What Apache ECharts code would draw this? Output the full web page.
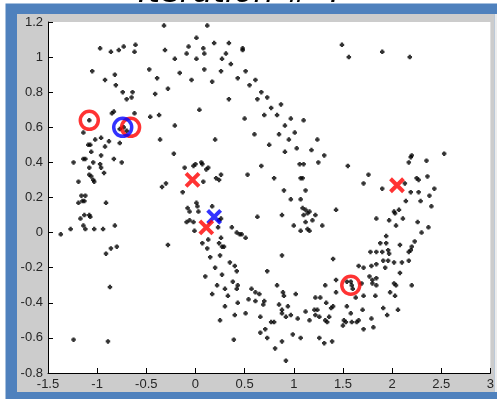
<!DOCTYPE html>
<html><head><meta charset="utf-8">
<script src="https://cdn.jsdelivr.net/npm/echarts@6/dist/echarts.min.js"></script>
<style>html,body{margin:0;padding:0;background:#fff}#c{width:497px;height:401px}</style>
</head><body><div id="c"></div>
<script>
const titleText = 'Iteration # 4';
const xTicks = {min: -1.5, max: 3, step: 0.5};
const yTicks = {min: -0.8, max: 1.2, step: 0.2};

const leftArm = [[-0.97,1.05],[-0.86,1.03],[-0.78,1.04],[-0.73,1.06],[-0.61,1.07],[-0.62,1.03],
[-1.05,0.92],[-0.92,0.87],[-0.82,0.90],[-0.81,0.84],[-1.08,0.64],
[-0.74,0.80],[-0.70,0.76],[-0.65,0.77],[-0.64,0.80],[-0.41,0.79],
[-0.85,0.68],[-0.83,0.69],[-0.62,0.68],[-0.46,0.66],[-0.37,0.67],
[-0.77,0.59],[-0.73,0.60],[-0.70,0.58],
[-1.14,0.57],[-1.02,0.53],[-0.96,0.54],[-0.88,0.52],[-0.77,0.51],[-1.09,0.50],[-1.07,0.50],[-0.92,0.49],[-1.06,0.46],[-0.96,0.44],[-0.83,0.42],[-0.75,0.40],[-1.14,0.42],[-1.12,0.42],[-1.24,0.40],[-1.04,0.40],[-0.97,0.39],[-0.96,0.37],[-1.08,0.37],
[-1.08,0.33],[-1.06,0.32],[-1.04,0.30],[-1.03,0.29],[-0.93,0.34],[-1.19,0.29],[-1.16,0.21],[-1.12,0.21],[-1.19,0.17],[-1.15,0.18],[-1.13,0.18],[-0.91,0.17],[-1.17,0.08],[-1.13,0.10],[-1.08,0.10],[-1.07,0.09],[-1.14,0.04],[-1.12,0.02],[-1.03,0.02],[-0.94,0.02],[-0.82,0.04],[-1.27,0.02],[-1.37,-0.01],[-0.91,-0.12],[-0.86,-0.09],[-0.80,-0.08],[-0.87,-0.31],[-1.24,-0.61],[-0.89,-0.62]];

const topArc = [[-0.32,1.18],[0.12,1.18],[0.01,1.11],[-0.31,1.04],[-0.07,1.06],[-0.09,1.02],[0.08,1.05],[0.09,1.02],[0.19,1.08],[0.34,1.08],[0.31,1.02],[0.48,1.05],[0.48,1.04],[-0.21,0.99],[0.01,0.99],[0.27,0.99],
[1.49,1.07],[1.90,1.03],[1.56,1.00],[2.18,1.00],
[-0.47,0.93],[-0.39,0.88],[-0.28,0.82],[-0.16,0.91],[-0.04,0.87],[0.09,0.93],[0.17,0.86],[0.26,0.92],[0.36,0.96],[0.43,0.88],[0.51,0.92],[0.55,0.84],[0.61,0.87],[0.67,0.80],[0.63,0.76],[0.73,0.77],[0.77,0.71],[0.70,0.67],[0.83,0.67],[0.87,0.73],[0.91,0.61],[0.97,0.65],[0.85,0.56],[0.95,0.53],[1.01,0.57],[1.03,0.48],[0.75,0.50],[0.91,0.46],[0.50,0.65],[0.34,0.76],[0.04,0.70],[-0.21,0.61],[-0.36,0.53],[0.20,0.53],[0.60,0.56],
[0.67,0.38],[0.80,0.31],[0.90,0.24],[0.97,0.19],[0.88,0.10],[1.00,0.04],
[1.10,0.64],[1.24,0.53],[1.18,0.47],[1.31,0.44]];

const centre = [[-0.22,0.45],[-0.11,0.37],[-0.02,0.38],[0.00,0.39],[0.06,0.40],[0.07,0.39],[0.11,0.36],[0.13,0.37],[0.26,0.33],[0.21,0.31],[0.24,0.30],[0.53,0.33],[0.08,0.29],[-0.30,0.28],[-0.34,0.26],[-0.13,0.23],[0.01,0.17],[0.02,0.15],[0.03,0.12],[-0.08,0.14],[-0.06,0.12],[0.17,0.15],[-0.09,0.06],[-0.06,0.07],[-0.02,0.06],[-0.01,0.01],[0.24,0.07],[0.26,0.08],[0.23,0.03],[0.37,0.03],[0.42,0.00],[0.45,-0.01],[0.47,-0.01],[0.51,-0.03],[0.63,0.09],[0.26,-0.03],[0.13,-0.04],[0.24,-0.06],[0.27,-0.08],[0.29,-0.08],[0.07,-0.06],[0.12,-0.09],[-0.28,-0.07],
[0.15,-0.14],[0.20,-0.20],[0.10,-0.25],[0.22,-0.30],[0.27,-0.24],[0.17,-0.35],[0.30,-0.42],[0.25,-0.50]];

const rightArm = [[1.25,0.40],[1.55,0.38],[1.10,0.39],[1.06,0.39],[2.19,0.43],[2.20,0.44],[2.17,0.40],[2.35,0.41],[2.53,0.45],[1.76,0.33],[1.71,0.28],[1.90,0.25],[2.13,0.28],[2.25,0.31],[2.27,0.30],[2.36,0.32],[2.19,0.23],[2.27,0.23],[2.38,0.21],[2.43,0.25],[2.14,0.18],[2.29,0.18],[2.40,0.15],
[1.07,0.31],[1.09,0.31],[1.12,0.24],[1.07,0.19],[1.09,0.14],[1.12,0.13],[1.14,0.11],[1.10,0.10],[1.16,0.12],[1.22,0.10],[1.12,0.06],[1.19,0.07],[1.07,0.01],[1.14,0.02],[1.16,0.01],[1.29,0.04],[1.43,0.13],
[2.02,0.12],[2.03,0.11],[2.07,0.13],[1.84,0.08],[1.97,0.07],[2.11,0.08],[2.04,0.04],[2.26,0.06],[2.37,0.03],[2.30,0.00],[1.94,-0.02],[1.88,-0.06],[1.94,-0.06],[1.96,-0.10],[2.08,-0.07],[2.23,-0.05],[2.20,-0.08],[2.17,-0.11],[2.19,-0.10],
[1.78,-0.11],[1.84,-0.11],[1.90,-0.11],[1.97,-0.12],[1.91,-0.16],[1.96,-0.16],[1.84,-0.18],[2.02,-0.17],[2.10,-0.17],[2.17,-0.16],[1.40,-0.15],[1.66,-0.19],[1.71,-0.20],[1.79,-0.19],[1.93,-0.20],[2.08,-0.23],[1.77,-0.25],[1.84,-0.26],[1.69,-0.29],[1.80,-0.27],[1.80,-0.29],[1.84,-0.30],[2.02,-0.29],[2.04,-0.30],[2.20,-0.30]];

const bottomArc = [[1.58,-0.28],[1.59,-0.30],[1.60,-0.32],[1.54,-0.28],[1.43,-0.27],[1.32,-0.30],[1.43,-0.34],[1.71,-0.36],[1.63,-0.37],[1.83,-0.36],[1.98,-0.34],[2.03,-0.36],[1.22,-0.37],[1.27,-0.37],[1.12,-0.45],[1.21,-0.44],[1.24,-0.44],[1.33,-0.40],[1.38,-0.43],[1.40,-0.42],[1.54,-0.42],[1.70,-0.44],[1.91,-0.43],[2.06,-0.44],[1.22,-0.47],[1.26,-0.48],[1.36,-0.48],[1.58,-0.46],[1.79,-0.49],[1.95,-0.47],
[0.25,-0.13],[0.35,-0.17],[0.40,-0.19],[0.42,-0.22],[0.88,-0.13],[0.73,-0.22],[0.38,-0.28],[0.43,-0.30],[0.42,-0.32],[0.30,-0.32],[0.33,-0.36],[0.57,-0.32],[0.61,-0.34],[0.65,-0.35],[0.83,-0.30],[0.89,-0.34],[0.90,-0.36],[1.02,-0.35],[0.43,-0.40],[0.54,-0.38],[0.61,-0.39],[0.70,-0.39],[0.69,-0.41],[0.85,-0.41],[0.94,-0.42],[0.40,-0.47],[0.51,-0.46],[0.66,-0.48],[0.80,-0.51],[0.77,-0.51],[0.88,-0.44],[0.88,-0.46],[0.92,-0.48],[0.97,-0.47],[1.04,-0.49],[1.16,-0.50],[1.32,-0.50],[1.34,-0.51],[1.51,-0.50],[1.53,-0.51],[1.50,-0.53],[1.59,-0.51],[1.64,-0.51],[1.66,-0.50],[1.71,-0.55],[1.81,-0.54],[0.71,-0.55],[0.66,-0.57],[0.73,-0.60],[0.99,-0.58],[1.07,-0.60],[1.26,-0.60],[1.31,-0.63],[1.39,-0.62],[0.39,-0.61],[0.88,-0.62],[0.81,-0.66],[0.92,-0.73]];

const redCircles = [[-1.08,0.64],[-0.66,0.60],[1.58,-0.30]];
const blueCircles = [[-0.74,0.60]];
const blueCrosses = [[0.19,0.09]];
const redCrosses = [[-0.03,0.30],[0.11,0.03],[2.05,0.27]];

const allPoints = [].concat(leftArm, topArc, centre, rightArm, bottomArc);

const chart = echarts.init(document.getElementById('c'), null, {renderer: 'canvas'});
const dotPath = 'path://M1,0H3V1H4V3H3V4H1V3H0V1H1Z';
const crossPath = 'path://M0,0L10,10M10,0L0,10';
const labelFont = {color: '#262626', fontSize: 13, fontFamily: 'Liberation Sans, Arial, sans-serif'};
const fmt = v => String(+v.toFixed(1));

chart.setOption({
  animation: false,
  backgroundColor: '#ffffff',
  graphic: [
    {type: 'text', z: -20, left: 138, top: -22, style: {text: titleText, font: 'italic 32px "DejaVu Sans"', fill: '#000'}},
    {type: 'rect', z: -15, shape: {x: 5.5, y: 3.5, width: 492, height: 395.5}, style: {fill: '#4f81bd'}},
    {type: 'rect', z: -14, shape: {x: 17, y: 14, width: 477.5, height: 378}, style: {fill: '#cccccc'}},
    {type: 'rect', z: -14, shape: {x: 494.5, y: 14, width: 2.5, height: 378}, style: {fill: '#ececec'}}
  ],
  grid: {left: 48, right: 5, top: 22, bottom: 28, show: true, backgroundColor: '#ffffff', borderWidth: 0},
  xAxis: {
    type: 'value', min: xTicks.min, max: xTicks.max, interval: xTicks.step,
    axisLine: {show: true, onZero: false, lineStyle: {color: '#000', width: 1}},
    axisTick: {show: true, inside: true, length: 5, lineStyle: {color: '#000'}},
    axisLabel: Object.assign({margin: 5, formatter: fmt}, labelFont),
    splitLine: {show: false}
  },
  yAxis: {
    type: 'value', min: yTicks.min, max: yTicks.max, interval: yTicks.step,
    axisLine: {show: true, onZero: false, lineStyle: {color: '#000', width: 1}},
    axisTick: {show: true, inside: true, length: 5, lineStyle: {color: '#000'}},
    axisLabel: Object.assign({margin: 5, formatter: fmt}, labelFont),
    splitLine: {show: false}
  },
  series: [
    {type: 'scatter', data: allPoints, symbol: dotPath, symbolSize: 4.5, itemStyle: {color: '#000'}, z: 2},
    {type: 'scatter', data: redCircles, symbol: 'circle', symbolSize: 18, itemStyle: {color: 'rgba(0,0,0,0)', borderColor: '#ff0000', borderWidth: 3.5}, z: 3},
    {type: 'scatter', data: blueCircles, symbol: 'circle', symbolSize: 18, itemStyle: {color: 'rgba(0,0,0,0)', borderColor: '#0000ff', borderWidth: 3.5}, z: 4},
    {type: 'scatter', data: blueCrosses, symbol: crossPath, symbolSize: 13, itemStyle: {color: 'rgba(0,0,0,0)', borderColor: '#0000ff', borderWidth: 4}, z: 5},
    {type: 'scatter', data: redCrosses, symbol: crossPath, symbolSize: 13, itemStyle: {color: 'rgba(0,0,0,0)', borderColor: '#ff0000', borderWidth: 4}, z: 6}
  ]
});
</script></body></html>
